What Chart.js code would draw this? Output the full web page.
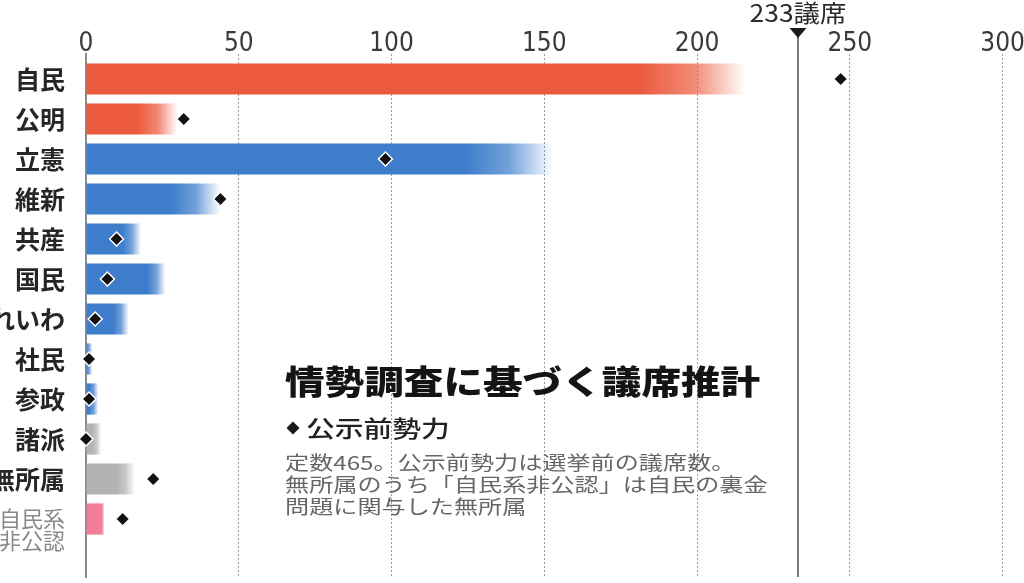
<!DOCTYPE html>
<html lang="ja">
<head>
<meta charset="utf-8">
<script src="https://cdn.jsdelivr.net/npm/chart.js@4/dist/chart.umd.min.js"></script>
<style>
html, body { margin: 0; padding: 0; background: #fff; }
canvas { display: block; }
</style>
</head>
<body>
<canvas id="seats" width="1024" height="583"></canvas>
<script>
// Parties, top to bottom
const categories = ['自民', '公明', '立憲', '維新', '共産', '国民', 'れいわ', '社民', '参政', '諸派', '無所属', '自民系非公認'];
// Estimated seat range: bar is solid up to the low estimate and fades out toward the high estimate
const estimateLow  = [181, 17, 124, 28, 12, 20, 9, 0, 1, 2, 10, 5];
const estimateHigh = [216, 30, 153, 44, 18, 26, 14, 2, 4, 5, 16, 6];
// Seats held before the official announcement (diamonds)
const preElection  = [247, 32, 98, 44, 10, 7, 3, 1, 1, 0, 22, 12];
const barColors = ['#EC5A3E', '#EC5A3E', '#3D7DCB', '#3D7DCB', '#3D7DCB', '#3D7DCB', '#3D7DCB', '#3D7DCB', '#3D7DCB', '#B3B3B3', '#B3B3B3', '#F27C9B'];
const xTicks = [0, 50, 100, 150, 200, 250, 300];
const majority = 233;
const majorityLabel = '233議席';
const titleText = '情勢調査に基づく議席推計';
const legendText = '公示前勢力';
const noteLines = [
  '定数465。公示前勢力は選挙前の議席数。',
  '無所属のうち「自民系非公認」は自民の裏金',
  '問題に関与した無所属'
];

const CJK = "'Noto Sans CJK JP', 'Noto Sans', sans-serif";
const NARROW = "'Liberation Sans Narrow', 'DejaVu Sans Condensed', 'Liberation Sans', sans-serif";
const NARROW_CJK = "'Liberation Sans Narrow', 'Noto Sans CJK JP', sans-serif";

function hexToRgb(hex) {
  const n = parseInt(hex.slice(1), 16);
  return [(n >> 16) & 255, (n >> 8) & 255, n & 255];
}

// Horizontal fade from the low estimate to the high estimate
function fadeFill(context) {
  const chart = context.chart;
  const i = context.dataIndex;
  if (i === undefined) return barColors[0];
  const xs = chart.scales.x;
  if (!chart.chartArea || !xs) return barColors[i];
  const x0 = xs.getPixelForValue(estimateLow[i]);
  const x1 = xs.getPixelForValue(estimateHigh[i]);
  const [r, g, b] = hexToRgb(barColors[i]);
  const grad = chart.ctx.createLinearGradient(x0, 0, Math.max(x1, x0 + 1), 0);
  grad.addColorStop(0, `rgba(${r},${g},${b},1)`);
  grad.addColorStop(0.5, `rgba(${r},${g},${b},0.72)`);
  grad.addColorStop(1, `rgba(${r},${g},${b},0)`);
  return grad;
}

function drawStretched(ctx, text, x, y, font, color, sx, align) {
  ctx.save();
  ctx.font = font;
  ctx.fillStyle = color;
  ctx.textBaseline = 'middle';
  ctx.textAlign = align || 'left';
  ctx.translate(x, y);
  ctx.scale(sx, 1);
  ctx.fillText(text, 0, 0);
  ctx.restore();
}

function diamond(ctx, x, y, r, fill) {
  ctx.beginPath();
  ctx.moveTo(x - r, y);
  ctx.lineTo(x, y - r);
  ctx.lineTo(x + r, y);
  ctx.lineTo(x, y + r);
  ctx.closePath();
  ctx.fillStyle = fill;
  ctx.fill();
}

// Majority marker and the caption block
const overlay = {
  id: 'overlay',
  afterDraw(chart) {
    const { ctx, chartArea, scales } = chart;
    const mx = Math.round(scales.x.getPixelForValue(majority));
    ctx.save();
    ctx.strokeStyle = '#7a7a7a';
    ctx.lineWidth = 2;
    ctx.beginPath();
    ctx.moveTo(mx, 36);
    ctx.lineTo(mx, chartArea.bottom);
    ctx.stroke();
    ctx.fillStyle = '#1b1b1b';
    ctx.beginPath();
    ctx.moveTo(mx - 8.5, 28);
    ctx.lineTo(mx + 8.5, 28);
    ctx.lineTo(mx, 38);
    ctx.closePath();
    ctx.fill();
    ctx.restore();
    drawStretched(ctx, majorityLabel, mx, 13, `24px ${NARROW_CJK}`, '#2a2a2a', 1.1, 'center');

    drawStretched(ctx, titleText, 285, 381, `900 33px ${CJK}`, '#141414', 1.2, 'left');
    diamond(ctx, 293, 428, 6.5, '#1a1a1a');
    drawStretched(ctx, legendText, 306, 428, `500 23px ${CJK}`, '#222', 1.25, 'left');
    noteLines.forEach((line, k) => {
      drawStretched(ctx, line, 285, 463 + k * 22, `19px ${CJK}`, '#666', 1.27, 'left');
    });
  }
};

new Chart(document.getElementById('seats'), {
  data: {
    datasets: [
      {
        type: 'line',
        label: '公示前勢力',
        data: preElection.map((v, i) => ({ x: v, y: i })),
        showLine: false,
        pointStyle: 'rectRot',
        pointRadius: 7,
        pointBackgroundColor: '#111',
        pointBorderColor: '#fff',
        pointBorderWidth: 1.5,
        clip: false,
        order: 0
      },
      {
        type: 'bar',
        label: '議席推計',
        data: estimateHigh.map((v, i) => ({ x: v, y: i })),
        backgroundColor: fadeFill,
        borderWidth: 0,
        barPercentage: 0.78,
        categoryPercentage: 1,
        order: 1
      }
    ]
  },
  options: {
    indexAxis: 'y',
    responsive: false,
    animation: false,
    events: [],
    layout: { autoPadding: false, padding: { top: 0, right: 0, bottom: 6, left: 0 } },
    plugins: { legend: { display: false }, tooltip: { enabled: false } },
    scales: {
      x: {
        type: 'linear',
        position: 'top',
        min: 0,
        max: 307,
        offset: false,
        z: 1,
        afterFit(s) { s.height = 54; s.paddingLeft = 0; s.paddingRight = 0; },
        afterBuildTicks(s) { s.ticks = xTicks.map(v => ({ value: v })); },
        grid: {
          color: c => (c.tick && c.tick.value === 0 ? 'rgba(0,0,0,0)' : '#9c9c9c'),
          lineWidth: 1,
          drawTicks: false
        },
        border: { display: false, dash: [2, 2] },
        ticks: {
          color: '#3a3a3a',
          padding: -3,
          maxRotation: 0,
          font: { family: NARROW, size: 26, lineHeight: 1 }
        }
      },
      y: {
        type: 'linear',
        reverse: true,
        offset: false,
        min: -0.625,
        max: 12.45,
        afterFit(s) { s.width = 86; s.paddingTop = 0; s.paddingBottom = 0; },
        afterBuildTicks(s) { s.ticks = categories.map((_, i) => ({ value: i })); },
        grid: { display: false, drawTicks: false },
        border: { display: true, color: '#8a8a8a', width: 2 },
        ticks: {
          autoSkip: false,
          padding: 21,
          callback: v => {
            const name = categories[v];
            return name.length > 3 ? ['', name.slice(0, 3), name.slice(3)] : name;
          },
          color: c => (c.index === categories.length - 1 ? '#8a8a8a' : '#262626'),
          font: c => (c.index === categories.length - 1
            ? { family: CJK, size: 22, weight: 'normal', lineHeight: 1 }
            : { family: CJK, size: 25, weight: 'bold', lineHeight: 1.2 })
        }
      }
    }
  },
  plugins: [overlay]
});
</script>
</body>
</html>
